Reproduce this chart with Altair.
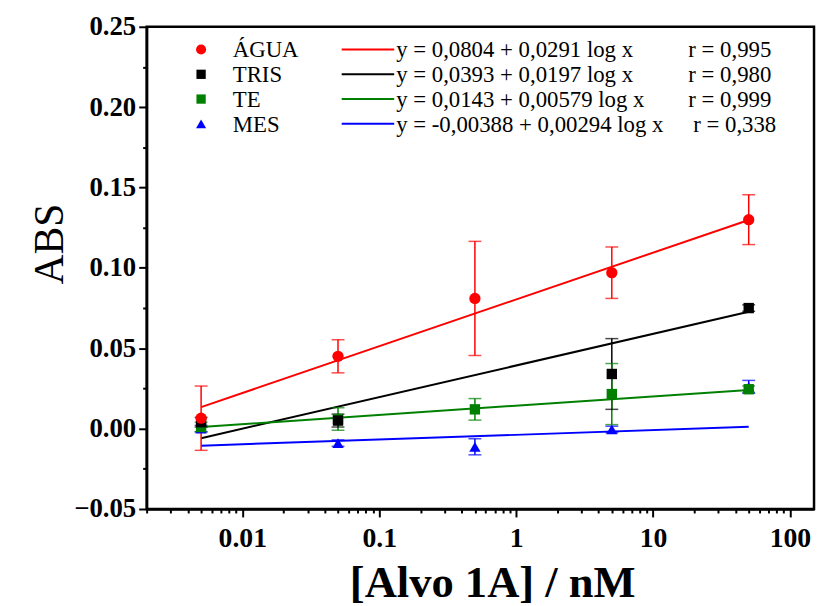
import altair as alt
import pandas as pd

# ---- data ----
conc = [0.005, 0.05, 0.5, 5, 50]
series = ["ÁGUA", "TRIS", "TE", "MES"]
colors = ["#ff0000", "#000000", "#008000", "#0000ff"]
shapes = ["circle", "square", "square", "triangle-up"]
sizes = [130, 110, 110, 130]

agua_y = [0.0065, 0.045, 0.081, 0.097, 0.130]
agua_err = [0.020, 0.0103, 0.0355, 0.016, 0.0155]
tris_y = [0.004, 0.005, None, 0.034, 0.075]
tris_err = [0.003, 0.004, None, 0.022, 0.002]
te_y = [0.001, 0.006, 0.012, 0.0215, 0.0245]
te_err = [0.003, 0.007, 0.0067, 0.019, 0.002]
mes_y = [0.0, -0.009, -0.0113, -0.0005, 0.026]
mes_err = [0.002, 0.002, 0.005, 0.002, 0.004]

fit_x = [0.005, 50]
fit_start = [0.0134, -0.0060, 0.0010, -0.0106]
fit_end = [0.1298, 0.0727, 0.0241, 0.0011]
equations = [
    "y = 0,0804 + 0,0291 log x",
    "y = 0,0393 + 0,0197 log x",
    "y = 0,0143 + 0,00579 log x",
    "y = -0,00388 + 0,00294 log x",
]
r_texts = ["r = 0,995", "r = 0,980", "r = 0,999", "r = 0,338"]

x_major = [0.01, 0.1, 1, 10, 100]
x_ticks = [m * d for d in [0.001, 0.01, 0.1, 1, 10] for m in range(2, 10)] + x_major
x_ticks = sorted(set(round(v, 6) for v in x_ticks if 0.002 <= v <= 150))
y_ticks = [round(-0.05 + 0.025 * i, 3) for i in range(13)]

ys = [agua_y, tris_y, te_y, mes_y]
errs = [agua_err, tris_err, te_err, mes_err]

rows = []
for s, yv, ev in zip(series, ys, errs):
    for x, y, e in zip(conc, yv, ev):
        if y is None:
            continue
        rows.append({"serie": s, "x": x, "y": y, "lo": y - e, "hi": y + e})
pts = pd.DataFrame(rows)

lrows = []
for s, a, b in zip(series, fit_start, fit_end):
    lrows.append({"serie": s, "x": fit_x[0], "y": a})
    lrows.append({"serie": s, "x": fit_x[1], "y": b})
lines = pd.DataFrame(lrows)

FONT = "Liberation Serif"
xscale = alt.Scale(type="log", domain=[0.002, 150], nice=False)
yscale = alt.Scale(domain=[-0.05, 0.25], nice=False, zero=False)
cscale = alt.Scale(domain=series, range=colors)

major_x_test = "indexof([0.01,0.1,1,10,100], datum.value) >= 0"
major_y_test = "abs(datum.value*20 - round(datum.value*20)) < 0.000001"

xaxis = alt.Axis(
    values=x_ticks,
    labelExpr=f"{major_x_test} ? toString(datum.value) : ''",
    tickSize={"condition": {"test": major_x_test, "value": 8}, "value": 4},
    title="[Alvo 1A] / nM",
    titleFont=FONT, titleFontSize=45, titleFontWeight="bold",
    titleX=349, titleY=74, titleBaseline="middle", titleAlign="center",
    labelFont=FONT, labelFontSize=28, labelFontWeight="bold", labelPadding=8,
    grid=False, labelOverlap=False,
)
yaxis = alt.Axis(
    values=y_ticks,
    labelExpr=f"{major_y_test} ? format(datum.value, '.2f') : ''",
    tickSize={"condition": {"test": major_y_test, "value": 8}, "value": 4},
    title="ABS",
    titleFont=FONT, titleFontSize=42, titleFontWeight="normal",
    titleX=-98, titleY=219, titleAngle=-90, titleBaseline="middle", titleAlign="center",
    labelFont=FONT, labelFontSize=27, labelFontWeight="bold", labelPadding=3,
    grid=False, labelOverlap=False,
)

base_x = alt.X("x:Q", scale=xscale, axis=xaxis)
base_y = alt.Y("y:Q", scale=yscale, axis=yaxis)
col = alt.Color("serie:N", scale=cscale, legend=None)

fit = alt.Chart(lines).mark_line(strokeWidth=2).encode(
    x=base_x, y=base_y, color=col, detail="serie:N"
)

err_rule = alt.Chart(pts).mark_rule(strokeWidth=1.5).encode(
    x=alt.X("x:Q", scale=xscale), y=alt.Y("lo:Q", scale=yscale), y2="hi:Q", color=col
)
cap_lo = alt.Chart(pts).mark_tick(orient="horizontal", size=13, thickness=1.5).encode(
    x=alt.X("x:Q", scale=xscale), y=alt.Y("lo:Q", scale=yscale), color=col
)
cap_hi = alt.Chart(pts).mark_tick(orient="horizontal", size=13, thickness=1.5).encode(
    x=alt.X("x:Q", scale=xscale), y=alt.Y("hi:Q", scale=yscale), color=col
)

layers = [fit, err_rule, cap_lo, cap_hi]
for s, c, sh, sz in reversed(list(zip(series, colors, shapes, sizes))):
    layers.append(
        alt.Chart(pts).transform_filter(alt.datum.serie == s)
        .mark_point(shape=sh, filled=True, size=sz, color=c, opacity=1)
        .encode(x=alt.X("x:Q", scale=xscale), y=alt.Y("y:Q", scale=yscale))
    )

# ---- legend (drawn inside the plot) ----
leg_df = pd.DataFrame({"k": [0]})
LFS = 23
for i, (s, c, sh, sz, eq, rt) in enumerate(zip(series, colors, shapes, sizes, equations, r_texts)):
    yy = 23 + 25 * i
    b = alt.Chart(leg_df)
    layers.append(b.mark_point(shape=sh, filled=True, size=sz * 0.8, color=c, opacity=1)
                  .encode(x=alt.value(55), y=alt.value(yy)))
    layers.append(b.mark_text(font=FONT, fontSize=LFS, align="left", baseline="middle", color="black")
                  .encode(x=alt.value(87), y=alt.value(yy + 1), text=alt.value(s)))
    layers.append(b.mark_rule(strokeWidth=2, color=c)
                  .encode(x=alt.value(197), x2=alt.value(250), y=alt.value(yy)))
    layers.append(b.mark_text(font=FONT, fontSize=LFS, align="left", baseline="middle", color="black")
                  .encode(x=alt.value(252), y=alt.value(yy + 1), text=alt.value(eq)))
    layers.append(b.mark_text(font=FONT, fontSize=LFS, align="left", baseline="middle", color="black")
                  .encode(x=alt.value(547 if i < 3 else 552), y=alt.value(yy + 1), text=alt.value(rt)))

chart = alt.layer(*layers).properties(
    width=674, height=487,
    autosize=alt.AutoSizeParams(type="none"),
    padding={"left": 140, "top": 16, "right": 3, "bottom": 95},
    background="white",
).configure_view(stroke="black", strokeWidth=2.5).configure_axis(
    domainColor="black", domainWidth=2.5, tickColor="black", tickWidth=2,
    labelColor="black", titleColor="black",
)

chart.save("out.html", embed_options={"renderer": "svg", "actions": False})
